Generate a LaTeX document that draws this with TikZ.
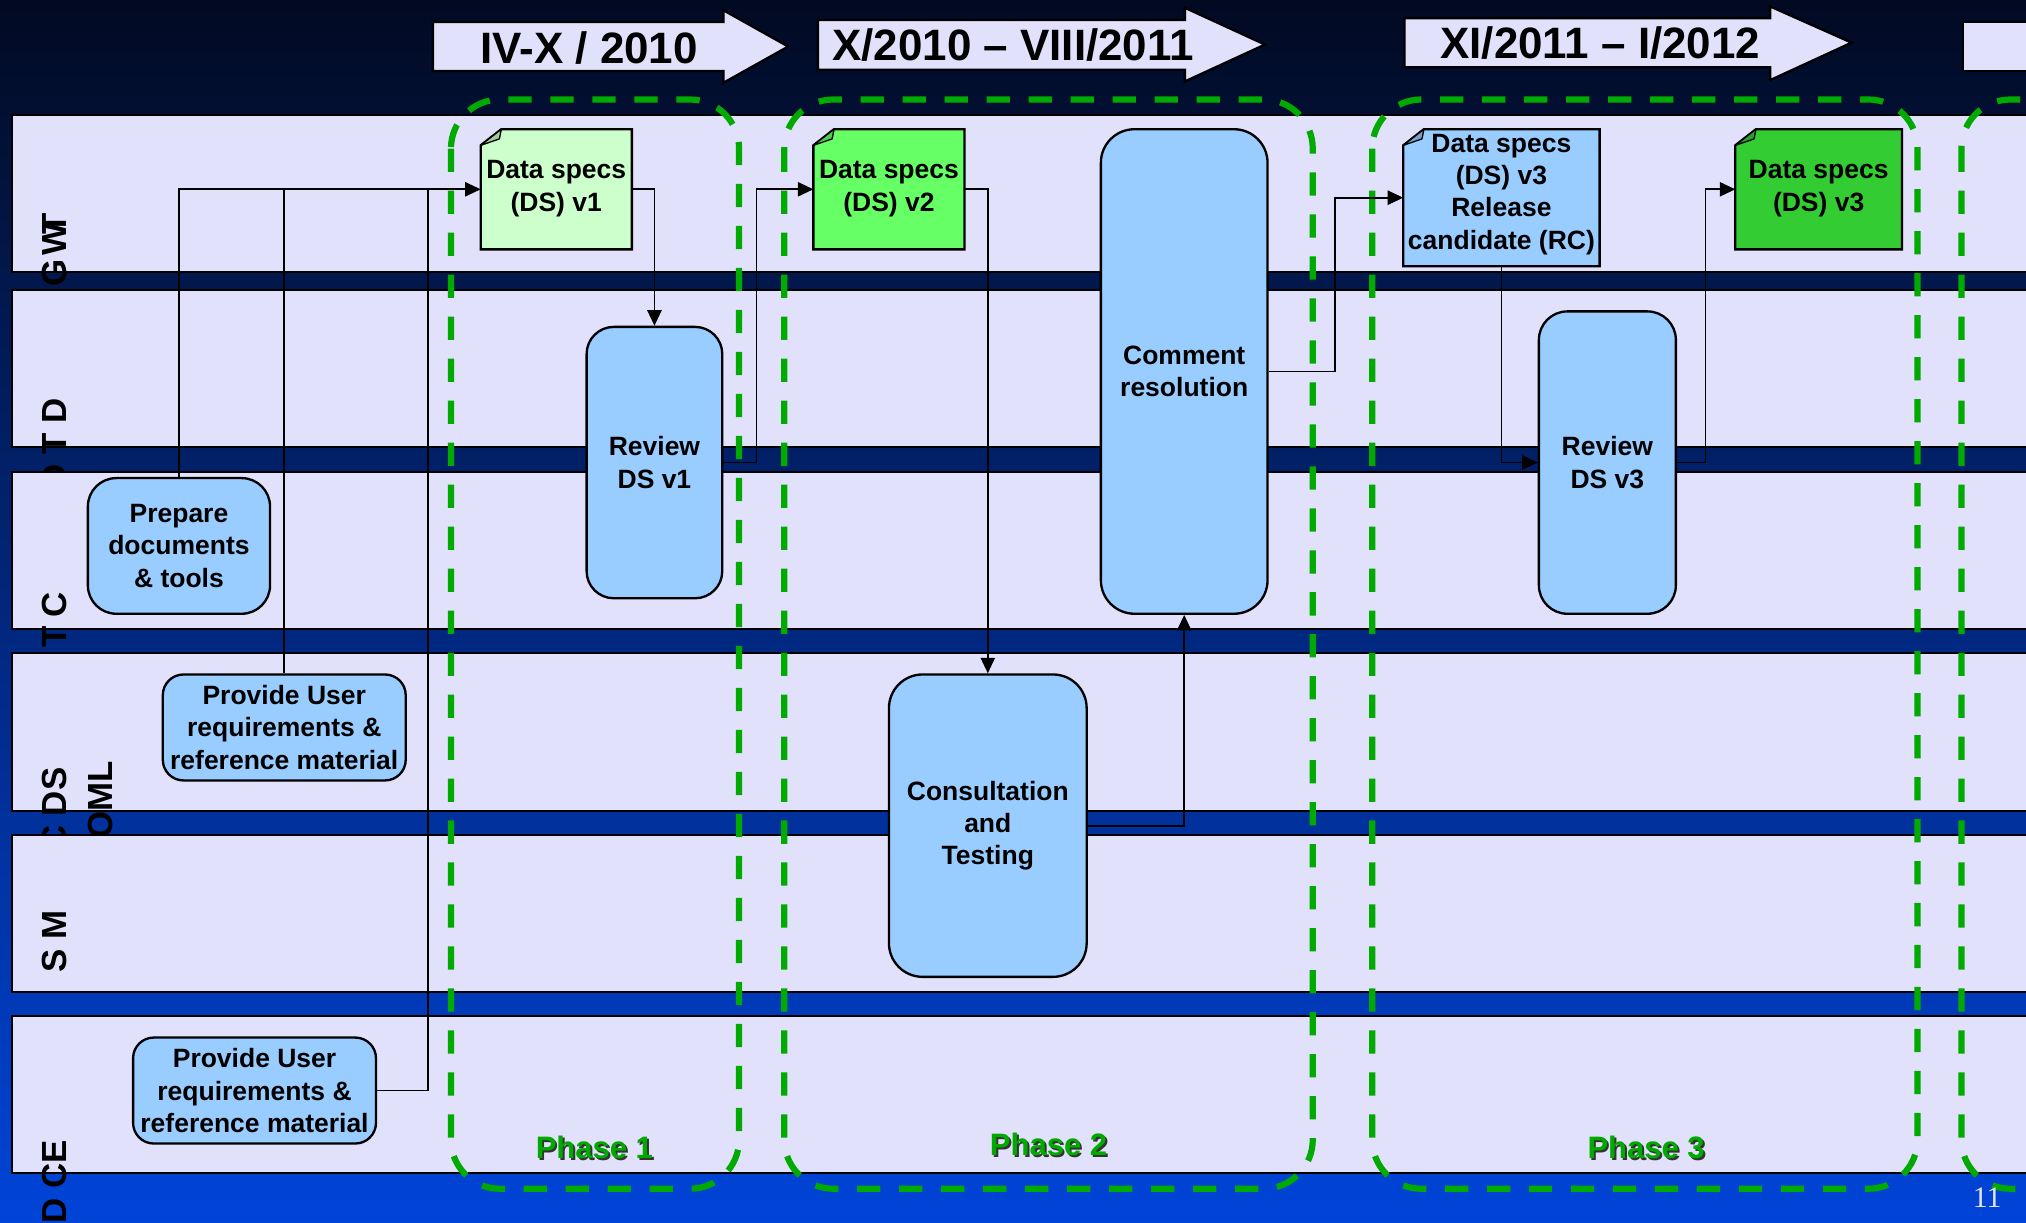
\documentclass[tikz,border=0pt]{standalone}
\usepackage{fontspec}
\setmainfont{Liberation Sans}
\newfontfamily\pageserif{Liberation Serif}
\usetikzlibrary{arrows.meta,calc}

\definecolor{bgtop}{HTML}{020A22}
\definecolor{bgbot}{HTML}{0044D8}
\definecolor{lanefill}{HTML}{E1E1FC}
\definecolor{taskblue}{HTML}{99CCFF}
\definecolor{specpale}{HTML}{CCFFCC}
\definecolor{specbright}{HTML}{66FF66}
\definecolor{specfinal}{HTML}{33CC33}
\definecolor{phasegreen}{HTML}{00AA00}

% Data-specification sheet with a dog-eared top-left corner
% #1 name, #2 centre, #3 width, #4 height, #5 fill colour, #6 text offset, #7 text
\newcommand\specnote[7]{%
  \node[notebody,minimum width=#3,minimum height=#4] (#1) at #2 {};
  \filldraw[notepaper=#5] ($(#1.north west)+(0,12.5)$) -- ($(#1.north west)+(16,0)$)
     -- (#1.north east) -- (#1.south east) -- (#1.south west) -- cycle;
  \filldraw[notefold=#5] ($(#1.north west)+(0,12.5)$) -- ($(#1.north west)+(16,0)$)
     -- ($(#1.north west)+(14.5,7.5)$) -- cycle;
  \node[notetext] (#1-text) at ($(#1)+(0,#6)$) {#7};
}

\begin{document}
\begin{tikzpicture}[x=1pt,y=-1pt,
  lane/.style={fill=lanefill,draw=black,line width=1.5pt},
  lanelabel/.style={rotate=90,anchor=east,inner sep=0pt,outer sep=0pt,
    font=\fontsize{27}{30}\selectfont\bfseries},
  task/.style={draw=black,line width=1.8pt,fill=taskblue,rounded corners=#1,
    align=center,inner sep=0pt,font=\fontsize{20.5}{25}\selectfont\bfseries},
  task/.default=22pt,
  notebody/.style={inner sep=0pt,outer sep=0pt},
  notepaper/.style={draw=black,line width=1.8pt,fill=#1},
  notefold/.style={draw=black,line width=1pt,fill=#1!80!black,line join=round},
  notetext/.style={align=center,inner sep=0pt,font=\fontsize{20.5}{25}\selectfont\bfseries},
  timearrow/.style={fill=lanefill,draw=black,line width=1.8pt,line join=miter},
  timetext/.style={inner sep=0pt,font=\fontsize{34}{40}\selectfont\bfseries},
  phasebox/.style={draw=phasegreen,line width=4.8pt,dash pattern=on 18pt off 14.5pt,rounded corners=38pt},
  phasetext/.style={inner sep=0pt,font=\fontsize{24}{28}\selectfont\bfseries},
  conn/.style={draw=black,line width=1.3pt},
  connarrow/.style={conn,-{Triangle[length=12pt,width=11pt]}},
]
\clip (0,0) rectangle (1568,946);

% backdrop
\shade[top color=bgtop,bottom color=bgbot] (0,0) rectangle (1568,946);

% swim lanes with their rotated role labels
\path[lane] (9.3,89) rectangle (1600,210.3);
\node[lanelabel] (lab-twg) at (42.5,165) {G\kern3pt W\kern-9pt T};
\path[lane] (9.3,224.5) rectangle (1600,346);
\node[lanelabel] (lab-dt) at (42.5,308.5) {D T D};
\path[lane] (9.3,365) rectangle (1600,487);
\node[lanelabel] (lab-ct) at (42.5,458) {T C};
\path[lane] (9.3,505.7) rectangle (1600,627.5);
\node[lanelabel] (lab-ds) at (42.5,594) {C DS};
\node[lanelabel] (lab-lmo) at (77.5,589) {OML};
\path[lane] (9.3,646) rectangle (1600,767.5);
\node[lanelabel] (lab-ms) at (42.5,704.5) {S M};
\path[lane] (9.3,786.3) rectangle (1600,907.7);
\node[lanelabel] (lab-ec) at (42.5,882.5) {D CE};

% time line
\filldraw[timearrow] (335,17) -- (560,17) -- (560,8) -- (610,36) -- (560,64) -- (560,55) -- (335,55) -- cycle;
\node[timetext] (period1) at (456,37) {IV-X / 2010};
\filldraw[timearrow] (633,15.5) -- (917,15.5) -- (917,6) -- (979,34.5) -- (917,63) -- (917,54) -- (633,54) -- cycle;
\node[timetext] (period2) at (784,35) {X/2010 – VIII/2011};
\filldraw[timearrow] (1087,14) -- (1370,14) -- (1370,5) -- (1433,33) -- (1370,62) -- (1370,52) -- (1087,52) -- cycle;
\node[timetext] (period3) at (1238.5,33.5) {XI/2011 – I/2012};
\filldraw[timearrow] (1519,17) -- (1600,17) -- (1600,55) -- (1519,55) -- cycle;

% phases
\draw[phasebox] (349,77) rectangle (572,920);
\draw[phasebox] (607,77) rectangle (1016,920);
\draw[phasebox] (1062,77) rectangle (1484,920);
\draw[phasebox] (1518,77) rectangle (1700,920);
\node[phasetext,text=black!80] (phase1-shadow) at (461.5,889.5) {Phase 1};
\node[phasetext,text=phasegreen] (phase1) at (460,888) {Phase 1};
\node[phasetext,text=black!80] (phase2-shadow) at (813,887.5) {Phase 2};
\node[phasetext,text=phasegreen] (phase2) at (811.5,886) {Phase 2};
\node[phasetext,text=black!80] (phase3-shadow) at (1275.5,889.5) {Phase 3};
\node[phasetext,text=phasegreen] (phase3) at (1274,888) {Phase 3};

% data specification versions
\specnote{dsv1}{(430.5,146.5)}{117pt}{93pt}{specpale}{-0.5}{Data specs\\(DS) v1}
\specnote{dsv2}{(688,146.5)}{117pt}{93pt}{specbright}{-0.5}{Data specs\\(DS) v2}
\specnote{dsv3rc}{(1162,153)}{152pt}{106pt}{taskblue}{-2.5}{Data specs\\(DS) v3\\Release\\candidate (RC)}
\specnote{dsv3}{(1407.5,146.5)}{129pt}{93pt}{specfinal}{-0.5}{Data specs\\(DS) v3}

% activities
\node[task=22pt,minimum width=141pt,minimum height=105pt] (prep) at (138.5,422.5) {Prepare\\documents\\\& tools};
\node[task=16pt,minimum width=188pt,minimum height=82pt] (prov1) at (220,563) {Provide User\\requirements \&\\reference material};
\node[task=16pt,minimum width=188pt,minimum height=82pt] (prov2) at (197,844) {Provide User\\requirements \&\\reference material};
\node[task=21pt,minimum width=105pt,minimum height=210pt] (rev1) at (506.5,358) {Review\\DS v1};
\node[task=26pt,minimum width=153pt,minimum height=234pt] (consult) at (764.5,639) {Consultation\\and\\Testing};
\node[task=26pt,minimum width=129pt,minimum height=375pt] (comment) at (916.5,287.5) {Comment\\resolution};
\node[task=22pt,minimum width=106pt,minimum height=234pt] (rev3) at (1244,358) {Review\\DS v3};

% flow
\coordinate (feedA) at (331.5,0);
\coordinate (jog1) at (585.6,0);
\coordinate (jog2) at (1033,0);
\coordinate (jog3) at (1320,0);
\draw[connarrow] (prep.north) |- (dsv1.west);
\draw[conn] (prov1.north) -- (prov1.north |- dsv1.west);
\draw[conn] (prov2.east) -| (feedA |- dsv1.west);
\draw[connarrow] (dsv1.east) -| (rev1.north);
\draw[connarrow] (rev1.east) -- (rev1.east -| jog1) |- (dsv2.west);
\draw[connarrow] (dsv2.east) -| (consult.north);
\draw[connarrow] (consult.east) -| (comment.south);
\draw[connarrow] (comment.east) -- (comment.east -| jog2) |- (dsv3rc.west);
\draw[connarrow] (dsv3rc.south) |- (rev3.west);
\draw[connarrow] (rev3.east) -- (rev3.east -| jog3) |- (dsv3.west);

% slide number
\node[text=white!90!black,inner sep=0pt,font=\pageserif\fontsize{23}{26}\selectfont] (pagenum) at (1538,927) {11};
\end{tikzpicture}
\end{document}
